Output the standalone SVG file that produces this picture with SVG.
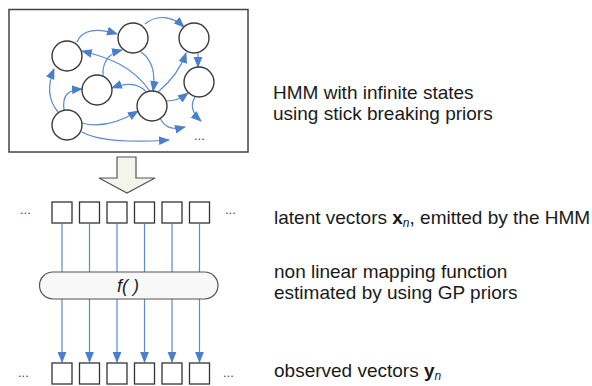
<svg xmlns="http://www.w3.org/2000/svg" width="592" height="386" viewBox="0 0 592 386">
<defs>
<marker id="ah" markerUnits="userSpaceOnUse" markerWidth="11" markerHeight="10" viewBox="0 0 11 10" refX="10" refY="5" orient="auto">
<path d="M0,0.6 L11,5 L0,9.4 Z" fill="#4a7fcb"/>
</marker>
<style>
.st{fill:#fff;stroke:#3a3a3a;stroke-width:1.4}
.e{fill:none;stroke:#5a8ad0;stroke-width:1.2;marker-end:url(#ah)}
.sq{fill:#fff;stroke:#333;stroke-width:1.3}
.t{font-family:"Liberation Sans",Arial,sans-serif;font-size:19px;fill:#1a1a1a}
.dots{font-family:"Liberation Sans",Arial,sans-serif;font-size:13px;fill:#444}
</style>
</defs>
<rect x="9" y="9.5" width="239" height="142.5" fill="#fff" stroke="#444" stroke-width="1.5"/>
<g id="connectors">
<path class="e" d="M77,42 C82,29 98,28 117,34"/>
<path class="e" d="M145,24 C157,14 172,16 184,27"/>
<path class="e" d="M150,91 C132,66 110,58 82,51"/>
<path class="e" d="M103,76 C102,60 110,53 122,50"/>
<path class="e" d="M141,52 C151,59 156,72 153,91"/>
<path class="e" d="M158,92 C171,81 181,68 186,53"/>
<path class="e" d="M198,53 L198,67"/>
<path class="e" d="M147,93 C140,84 128,82 112,88"/>
<path class="e" d="M58,112 C48,100 47,86 54,69"/>
<path class="e" d="M64,110 C62,95 68,90 82,89"/>
<path class="e" d="M82,123 C100,128 120,122 138,111"/>
<path class="e" d="M82,132 C100,142 140,142 169,140"/>
<path class="e" d="M160,118 C165,128 172,130 185,127"/>
<path class="e" d="M166,101 C175,101 180,99 188,93"/>
<path class="e" d="M195,97 C190,105 192,113 201,121"/>
<path class="e" d="M62,224 L62,362"/>
<path class="e" d="M89.5,224 L89.5,362"/>
<path class="e" d="M117,224 L117,362"/>
<path class="e" d="M144.5,224 L144.5,362"/>
<path class="e" d="M172,224 L172,362"/>
<path class="e" d="M199.5,224 L199.5,362"/>
</g>
<g id="sA"><circle class="st" cx="67" cy="56" r="15"/></g>
<g id="sB"><circle class="st" cx="133" cy="38" r="15"/></g>
<g id="sC"><circle class="st" cx="194" cy="38" r="15"/></g>
<g id="sD"><circle class="st" cx="199" cy="82" r="15"/></g>
<g id="sE"><circle class="st" cx="97" cy="90" r="15"/></g>
<g id="sF"><circle class="st" cx="152" cy="106" r="15"/></g>
<g id="sG"><circle class="st" cx="67" cy="125" r="15"/></g>
<text class="dots" x="194" y="140">...</text>
<g id="bigArrow"><polygon points="117,157 136,157 136,178 155,178 127,193 99,178 117,178" fill="#f3f5ec" stroke="#555" stroke-width="1.2"/></g>
<g id="latent">
<text class="dots" x="20" y="214">...</text>
<rect class="sq" x="52" y="202" width="20" height="21"/>
<rect class="sq" x="79.5" y="202" width="20" height="21"/>
<rect class="sq" x="107" y="202" width="20" height="21"/>
<rect class="sq" x="134.5" y="202" width="20" height="21"/>
<rect class="sq" x="162" y="202" width="20" height="21"/>
<rect class="sq" x="189.5" y="202" width="20" height="21"/>
<text class="dots" x="225" y="214">...</text>
</g>
<g id="fmap">
<rect x="39.5" y="272" width="178.5" height="27" rx="13.5" fill="#f8f8f8" stroke="#555" stroke-width="1.2"/>
<text x="128" y="292" text-anchor="middle" font-family="Liberation Sans,Arial,sans-serif" font-size="18" font-style="italic" fill="#222">f( )</text>
</g>
<g id="observed">
<text class="dots" x="18" y="377">...</text>
<rect class="sq" x="52" y="363" width="20" height="21"/>
<rect class="sq" x="79.5" y="363" width="20" height="21"/>
<rect class="sq" x="107" y="363" width="20" height="21"/>
<rect class="sq" x="134.5" y="363" width="20" height="21"/>
<rect class="sq" x="162" y="363" width="20" height="21"/>
<rect class="sq" x="189.5" y="363" width="20" height="21"/>
<text class="dots" x="223" y="377">...</text>
</g>
<g id="labels">
<text class="t" x="273" y="98.5">HMM with infinite states</text>
<text class="t" x="273" y="119.5">using stick breaking priors</text>
<text class="t" x="274" y="224">latent vectors <tspan font-weight="bold">x</tspan><tspan font-style="italic" font-size="12" dy="3">n</tspan><tspan dy="-3">, emitted by the HMM</tspan></text>
<text class="t" x="274" y="278">non linear mapping function</text>
<text class="t" x="274" y="298.5">estimated by using GP priors</text>
<text class="t" x="274" y="377">observed vectors <tspan font-weight="bold">y</tspan><tspan font-style="italic" font-size="12" dy="3">n</tspan></text>
</g>
</svg>
